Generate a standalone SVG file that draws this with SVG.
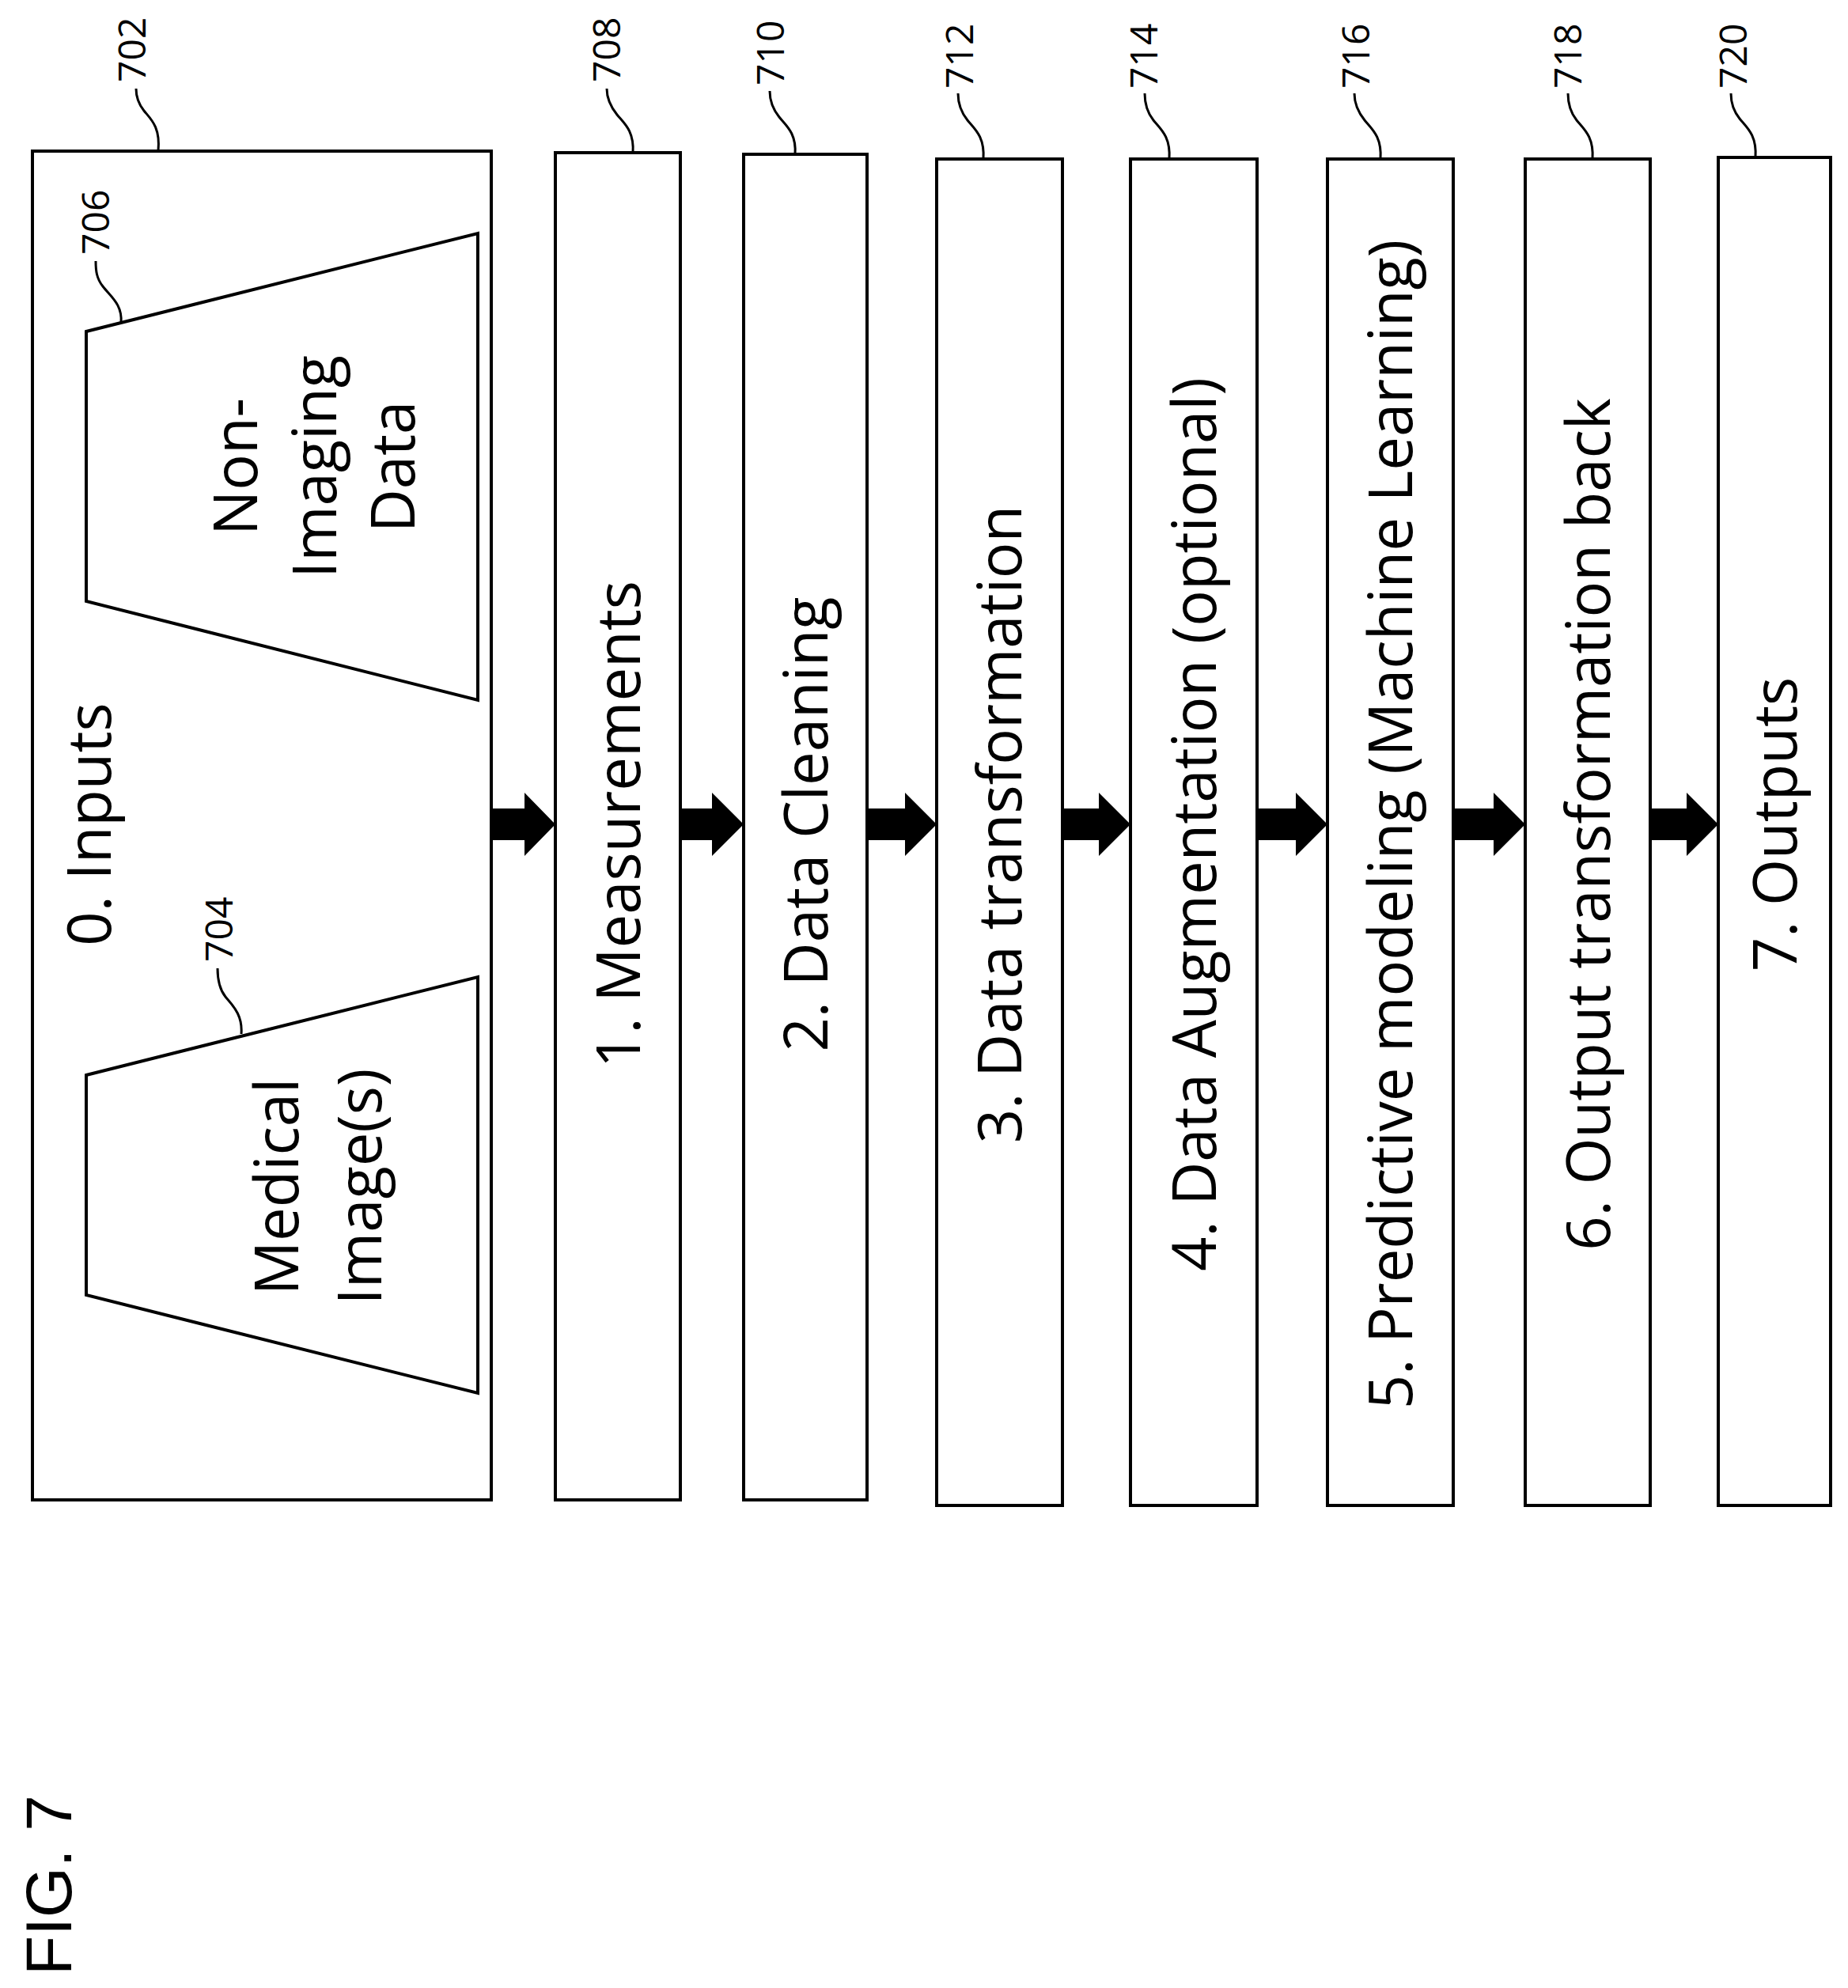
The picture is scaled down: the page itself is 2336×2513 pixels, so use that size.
<svg xmlns="http://www.w3.org/2000/svg" width="2336" height="2513" viewBox="0 0 2336 2513">
<style>
.b{fill:#fff;stroke:#000;stroke-width:4}
.t{font-family:"Open Sans","DejaVu Sans",sans-serif;font-size:76px;fill:#000;text-anchor:middle}
.n{font-family:"Open Sans","DejaVu Sans",sans-serif;font-size:48px;fill:#000}
.l{fill:none;stroke:#000;stroke-width:3}
.a{fill:#000}
</style>
<rect width="2336" height="2513" fill="#fff"/>
<g id="n702"><rect class="b" x="41" y="191" width="580" height="1705"/>
<text class="t" transform="translate(140,1042) rotate(-90)">0. Inputs</text>
<path class="l" d="M200,191 C203,160 190,150 182,140 C174,130 172,122 172,112"/>
<text class="n" transform="translate(184,104) rotate(-90)">702</text></g>
<g id="n706"><polygon class="b" points="109,419 604,295 604,885 109,760"/>
<text class="t" transform="translate(325,590) rotate(-90)">Non-</text>
<text class="t" transform="translate(425,590) rotate(-90)">Imaging</text>
<text class="t" transform="translate(524,590) rotate(-90)">Data</text>
<path class="l" d="M153,408 C155,385 140,375 130,362 C122,352 121,342 121,330"/>
<text class="n" transform="translate(138,322) rotate(-90)">706</text></g>
<g id="n704"><polygon class="b" points="109,1359 604,1235 604,1761 109,1637"/>
<text class="t" transform="translate(377,1500) rotate(-90)">Medical</text>
<text class="t" transform="translate(482,1500) rotate(-90)">Image(s)</text>
<path class="l" d="M305,1307 C307,1282 293,1270 285,1260 C277,1250 275,1238 275,1224"/>
<text class="n" transform="translate(294,1216) rotate(-90)">704</text></g>
<g id="n708"><rect class="b" x="702" y="193" width="158" height="1703"/>
<text class="t" transform="translate(809,1042) rotate(-90)">1. Measurements</text>
<path class="l" d="M800,193 C802,165 788,155 780,145 C772,135 767,125 767,112"/>
<text class="n" transform="translate(784,104) rotate(-90)">708</text></g>
<g id="n710"><rect class="b" x="940" y="195" width="156" height="1701"/>
<text class="t" transform="translate(1046,1042) rotate(-90)">2. Data Cleaning</text>
<path class="l" d="M1005,195 C1007,168 993,158 985,148 C977,138 973,128 973,115"/>
<text class="n" transform="translate(991,108) rotate(-90)">710</text></g>
<g id="n712"><rect class="b" x="1184" y="201" width="159" height="1702"/>
<text class="t" transform="translate(1291,1042) rotate(-90)">3. Data transformation</text>
<path class="l" d="M1243,201 C1245,172 1231,162 1223,152 C1215,142 1211,131 1211,118"/>
<text class="n" transform="translate(1230,112) rotate(-90)">712</text></g>
<g id="n714"><rect class="b" x="1429" y="201" width="160" height="1702"/>
<text class="t" transform="translate(1537,1042) rotate(-90)">4. Data Augmentation (optional)</text>
<path class="l" d="M1478,201 C1480,172 1466,162 1458,152 C1450,142 1447,131 1447,118"/>
<text class="n" transform="translate(1463,112) rotate(-90)">714</text></g>
<g id="n716"><rect class="b" x="1678" y="201" width="159" height="1702"/>
<text class="t" transform="translate(1785,1042) rotate(-90)">5. Predictive modeling (Machine Learning)</text>
<path class="l" d="M1745,201 C1747,172 1733,162 1725,152 C1717,142 1712,131 1712,118"/>
<text class="n" transform="translate(1731,112) rotate(-90)">716</text></g>
<g id="n718"><rect class="b" x="1928" y="201" width="158" height="1702"/>
<text class="t" transform="translate(2035,1042) rotate(-90)">6. Output transformation back</text>
<path class="l" d="M2013,201 C2015,172 2001,162 1993,152 C1985,142 1982,131 1982,118"/>
<text class="n" transform="translate(1999,112) rotate(-90)">718</text></g>
<g id="n720"><rect class="b" x="2172" y="199" width="142" height="1704"/>
<text class="t" transform="translate(2271,1042) rotate(-90)">7. Outputs</text>
<path class="l" d="M2219,199 C2221,170 2207,160 2199,150 C2191,140 2188,130 2188,118"/>
<text class="n" transform="translate(2208,112) rotate(-90)">720</text></g>
<g id="connectors">
<polygon class="a" points="621,1022 663,1022 663,1002 702,1042 663,1082 663,1062 621,1062"/>
<polygon class="a" points="860,1022 900,1022 900,1002 940,1042 900,1082 900,1062 860,1062"/>
<polygon class="a" points="1096,1022 1144,1022 1144,1002 1184,1042 1144,1082 1144,1062 1096,1062"/>
<polygon class="a" points="1343,1022 1389,1022 1389,1002 1429,1042 1389,1082 1389,1062 1343,1062"/>
<polygon class="a" points="1589,1022 1638,1022 1638,1002 1678,1042 1638,1082 1638,1062 1589,1062"/>
<polygon class="a" points="1837,1022 1888,1022 1888,1002 1928,1042 1888,1082 1888,1062 1837,1062"/>
<polygon class="a" points="2086,1022 2132,1022 2132,1002 2172,1042 2132,1082 2132,1062 2086,1062"/>
</g>
<text transform="translate(90,2383) rotate(-90)" font-family="Liberation Sans,Arial,sans-serif" font-size="82" text-anchor="middle">FIG. 7</text>
</svg>
